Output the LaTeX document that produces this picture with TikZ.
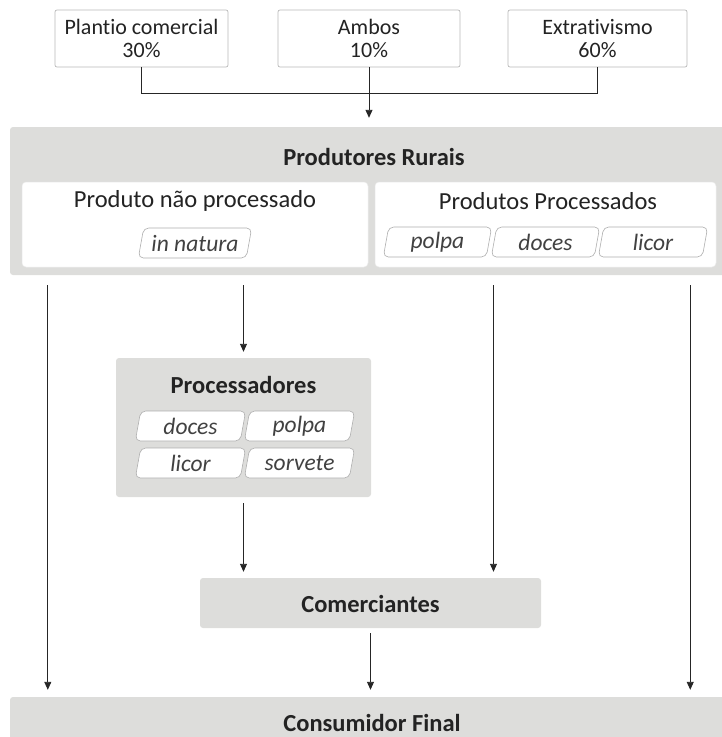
\documentclass[tikz,border=0pt]{standalone}
\usepackage{fontspec}
\setmainfont[Ligatures=NoCommon]{Carlito}
\usetikzlibrary{arrows.meta}
\definecolor{boxgray}{RGB}{221,221,219}
\definecolor{txt}{RGB}{35,35,35}
\definecolor{pilltxt}{RGB}{65,65,65}
\definecolor{edgegray}{RGB}{185,185,185}
\definecolor{pilledge}{RGB}{175,175,175}
\newcommand\pillbox[5]{%
  \draw[pillframe,shift={(#2,#3)},xslant=0.18] ({-#4/2},-15) rectangle ({#4/2},15);
  \node[pilltext] (#1) at (#2,#3) {#5};}
\begin{document}
\begin{tikzpicture}[x=1pt,y=-1pt,
  topbox/.style={draw=edgegray, line width=0.7pt, fill=white, rounded corners=2pt,
    inner sep=0pt, align=center, text=txt, font=\fontsize{22}{23}\selectfont},
  graybox/.style={fill=boxgray, rounded corners=3pt, inner sep=0pt},
  whitebox/.style={fill=white, draw=white!92!black, line width=0.5pt, rounded corners=4pt, inner sep=0pt},
  title/.style={text=txt, font=\fontsize{24.5}{28}\selectfont\bfseries, inner sep=0pt},
  header/.style={text=txt, font=\fontsize{24.5}{28}\selectfont, inner sep=0pt},
  pillframe/.style={draw=pilledge, fill=white, line width=0.6pt, rounded corners=5pt},
  pilltext/.style={text=pilltxt, font=\fontsize{23.5}{26}\selectfont\itshape, inner sep=0pt},
  arr/.style={draw=black!85, line width=0.9pt, -{Triangle[length=8pt,width=7pt]}},
  link/.style={draw=black!85, line width=0.9pt}
]
\useasboundingbox (0,0) rectangle (721,737);

% top boxes
\node[topbox, minimum width=173pt, minimum height=57pt] (plantio) at (141.5,38.5) {Plantio comercial\\30\%};
\node[topbox, minimum width=182pt, minimum height=57pt] (ambos) at (369,38.5) {Ambos\\10\%};
\node[topbox, minimum width=179pt, minimum height=57pt] (extra) at (597.5,38.5) {Extrativismo\\60\%};

% Produtores Rurais
\node[graybox, minimum width=730pt, minimum height=148pt] (prod) at (375,201) {};
\node[title] (prodt) at (374,157) {Produtores Rurais};
\node[whitebox, minimum width=346pt, minimum height=85pt] (np) at (195,224.5) {};
\node[whitebox, minimum width=341pt, minimum height=85pt] (pp) at (545.5,224.5) {};
\node[header] (npt) at (195,201) {Produto não processado};
\node[header] (ppt) at (548,201) {Produtos Processados};
\pillbox{innat}{195}{243}{108}{in natura}
\pillbox{polpa1}{437.5}{242}{103}{polpa}
\pillbox{doces1}{545.5}{242}{103}{doces}
\pillbox{licor1}{653}{242}{104}{licor}

% Processadores
\node[graybox, minimum width=255pt, minimum height=139pt] (proc) at (243.5,427.5) {};
\node[title] (proct) at (243.5,385) {Processadores};
\pillbox{doces2}{190.5}{426}{105}{doces}
\pillbox{polpa2}{299.5}{426}{105}{polpa}
\pillbox{licor2}{190.5}{463}{105}{licor}
\pillbox{sorv2}{299.5}{463}{105}{sorvete}

% Comerciantes
\node[graybox, minimum width=341pt, minimum height=50pt] (com) at (370.5,603) {};
\node[title] (comt) at (370.5,604) {Comerciantes};

% Consumidor Final
\node[graybox, minimum width=730pt, minimum height=70pt] (cons) at (375,732) {};
\node[title] (const) at (372,723) {Consumidor Final};

% connectors
\coordinate (jL) at (plantio.south |- 0,93);
\coordinate (jR) at (extra.south |- 0,93);
\draw[link] (plantio.south) -- (jL) -- (jR) -- (extra.south);
\draw[arr, shorten >=9pt] (ambos.south) -- (ambos.south |- prod.north);

\coordinate (cL) at ([xshift=38pt]prod.south west);
\coordinate (cR) at ([xshift=-26pt]pp.south east);
\coordinate (cM) at ([xshift=-52pt]pp.south);
\draw[arr, shorten <=10pt, shorten >=7pt] (cL) -- (cL |- cons.north);
\draw[arr, shorten <=18pt, shorten >=7pt] (cR) -- (cR |- cons.north);
\draw[arr, shorten <=10pt, shorten >=6pt] (prod.south -| proc.north) -- (proc.north);
\draw[arr, shorten <=18pt, shorten >=6pt] (cM) -- (cM |- com.north);
\draw[arr, shorten <=6pt, shorten >=6pt] (proc.south) -- (proc.south |- com.north);
\draw[arr, shorten <=5pt, shorten >=7pt] (com.south) -- (com.south |- cons.north);
\end{tikzpicture}
\end{document}
